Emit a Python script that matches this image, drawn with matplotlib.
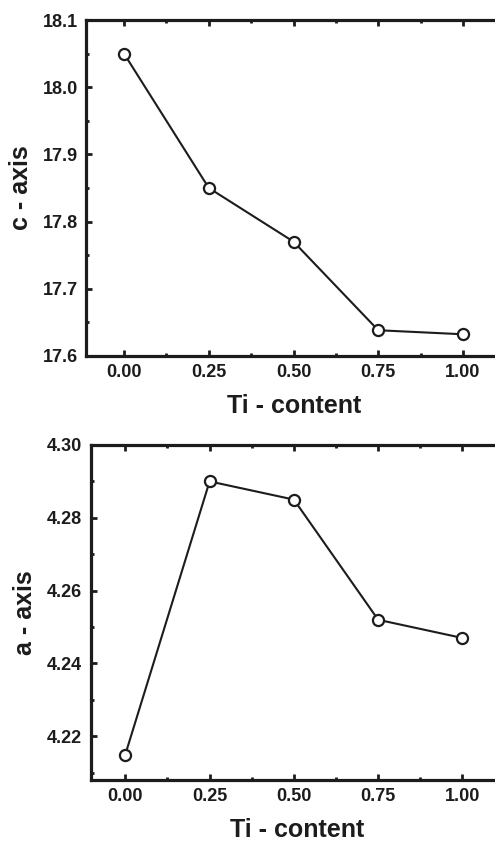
import matplotlib.pyplot as plt
from matplotlib.ticker import MultipleLocator

# Ti content vs lattice parameters
ti = [0.00, 0.25, 0.50, 0.75, 1.00]
c_axis = [18.05, 17.85, 17.77, 17.638, 17.632]
a_axis = [4.215, 4.290, 4.285, 4.252, 4.247]

plt.rcParams['font.family'] = ['Liberation Sans', 'DejaVu Sans']
plt.rcParams['font.weight'] = 'bold'
ink = '#1c1c1c'

fig = plt.figure(figsize=(4.95, 8.41), dpi=100)
# right spine sits just past the image edge, as in the cropped original
ax1 = fig.add_axes([0.174, 0.577, 0.842, 0.399])
ax2 = fig.add_axes([0.183, 0.0725, 0.833, 0.3984])


def style(ax, ylabel, ymajor, yminor, fmt):
    for s in ax.spines.values():
        s.set_linewidth(2.3)
        s.set_color(ink)
    ax.xaxis.set_major_locator(MultipleLocator(0.25))
    ax.xaxis.set_minor_locator(MultipleLocator(0.125))
    ax.yaxis.set_major_locator(MultipleLocator(ymajor))
    ax.yaxis.set_minor_locator(MultipleLocator(yminor))
    ax.tick_params(which='both', direction='in', top=True, right=True,
                   colors=ink, labelsize=13, pad=6)
    ax.tick_params(which='major', length=4, width=2)
    ax.tick_params(which='minor', length=2.5, width=2)
    ax.xaxis.set_major_formatter(plt.FormatStrFormatter('%.2f'))
    ax.yaxis.set_major_formatter(plt.FormatStrFormatter(fmt))
    ax.set_xlabel('Ti - content', fontsize=18, fontweight='bold', color=ink, labelpad=9)
    ax.set_ylabel(ylabel, fontsize=18, fontweight='bold', color=ink, labelpad=7)


ax1.plot(ti, c_axis, color=ink, lw=1.5, marker='o', ms=8, mfc='white', mec=ink, mew=1.6)
ax1.set_xlim(-0.112, 1.118)
ax1.set_ylim(17.6, 18.1)
style(ax1, 'c - axis', 0.1, 0.05, '%.1f')

ax2.plot(ti, a_axis, color=ink, lw=1.5, marker='o', ms=8, mfc='white', mec=ink, mew=1.6)
ax2.set_xlim(-0.103, 1.12)
ax2.set_ylim(4.208, 4.30)
style(ax2, 'a - axis', 0.02, 0.01, '%.2f')

fig.savefig('out.png', dpi=100)
